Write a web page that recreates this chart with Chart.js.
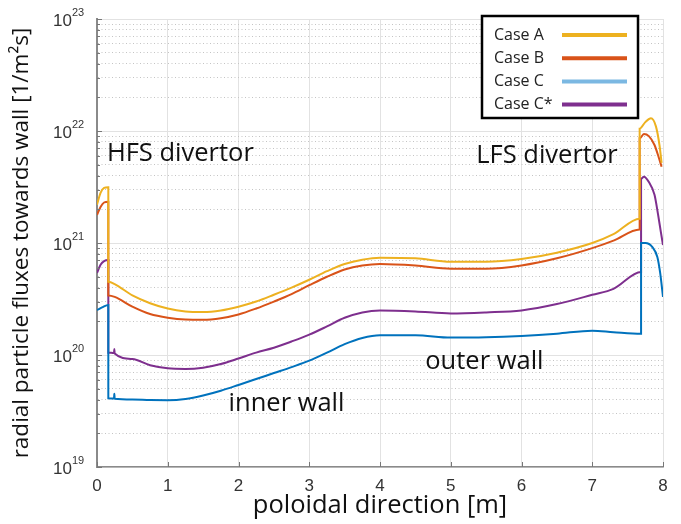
<!DOCTYPE html>
<html>
<head>
<meta charset="utf-8">
<script src="https://cdn.jsdelivr.net/npm/chart.js@4"></script>
<style>
  body { margin: 0; background: #fff; }
  canvas { display: block; }
</style>
</head>
<body>
<canvas id="fluxChart" width="681" height="524"></canvas>
<script>
// poloidal position [m] and radial flux [1/m^2 s]
var xA = [0, 0.05, 0.1, 0.16, 0.16, 0.25, 0.5, 0.75, 1.0, 1.25, 1.5, 1.75, 2.0, 2.25, 2.5, 2.75, 3.0, 3.25, 3.5, 3.75, 4.0, 4.5, 5.0, 5.5, 6.0, 6.5, 7.0, 7.3, 7.67, 7.67, 7.75, 7.83, 7.9, 7.95, 7.98];
var yA = [2.2e21, 2.8e21, 3.1e21, 3.15e21, 4.5e20, 4.3e20, 3.4e20, 2.9e20, 2.6e20, 2.45e20, 2.42e20, 2.5e20, 2.7e20, 3.0e20, 3.45e20, 4.0e20, 4.7e20, 5.6e20, 6.5e20, 7.1e20, 7.4e20, 7.3e20, 6.8e20, 6.8e20, 7.2e20, 8.2e20, 1.0e21, 1.2e21, 1.65e21, 1.05e22, 1.2e22, 1.3e22, 1.1e22, 7.5e21, 5.2e21];

var xB = [0, 0.05, 0.1, 0.16, 0.16, 0.25, 0.5, 0.75, 1.0, 1.25, 1.5, 1.75, 2.0, 2.25, 2.5, 2.75, 3.0, 3.25, 3.5, 3.75, 4.0, 4.5, 5.0, 5.5, 6.0, 6.5, 7.0, 7.3, 7.67, 7.67, 7.73, 7.8, 7.88, 7.94, 7.98];
var yB = [1.78e21, 2.1e21, 2.3e21, 2.34e21, 3.4e20, 3.3e20, 2.7e20, 2.32e20, 2.15e20, 2.07e20, 2.06e20, 2.13e20, 2.3e20, 2.6e20, 3.0e20, 3.5e20, 4.2e20, 5.0e20, 5.8e20, 6.3e20, 6.5e20, 6.3e20, 5.9e20, 5.9e20, 6.3e20, 7.3e20, 9.0e20, 1.05e21, 1.32e21, 8.6e21, 9.4e21, 9.0e21, 7.5e21, 5.8e21, 4.8e21];

var xC = [0, 0.08, 0.16, 0.16, 0.24, 0.245, 0.25, 0.5, 0.75, 1.0, 1.25, 1.5, 1.75, 2.0, 2.25, 2.5, 2.75, 3.0, 3.25, 3.5, 3.75, 4.0, 4.5, 5.0, 5.5, 6.0, 6.5, 7.0, 7.3, 7.69, 7.69, 7.75, 7.85, 7.92, 7.96, 8.0];
var yC = [2.52e20, 2.68e20, 2.8e20, 4.1e19, 4.08e19, 4.5e19, 4.06e19, 4.0e19, 3.96e19, 3.95e19, 4.05e19, 4.35e19, 4.8e19, 5.4e19, 6.1e19, 6.9e19, 7.8e19, 8.9e19, 1.05e20, 1.25e20, 1.42e20, 1.5e20, 1.5e20, 1.43e20, 1.44e20, 1.48e20, 1.55e20, 1.65e20, 1.6e20, 1.55e20, 1.0e21, 1.0e21, 9.2e20, 7.5e20, 5.4e20, 3.3e20];

var xCs = [0, 0.05, 0.1, 0.16, 0.16, 0.24, 0.245, 0.25, 0.5, 0.75, 1.0, 1.25, 1.5, 1.75, 2.0, 2.25, 2.5, 2.75, 3.0, 3.25, 3.5, 3.75, 4.0, 4.5, 5.0, 5.5, 6.0, 6.5, 7.0, 7.3, 7.69, 7.69, 7.73, 7.8, 7.88, 7.93, 7.97, 8.0];
var yCs = [5.4e20, 6.4e20, 6.9e20, 7.05e20, 1.05e20, 1.04e20, 1.13e20, 1.03e20, 9.2e19, 8.1e19, 7.6e19, 7.5e19, 7.7e19, 8.3e19, 9.3e19, 1.05e20, 1.16e20, 1.32e20, 1.52e20, 1.8e20, 2.15e20, 2.4e20, 2.5e20, 2.45e20, 2.35e20, 2.4e20, 2.5e20, 2.85e20, 3.45e20, 3.9e20, 5.5e20, 3.75e21, 3.9e21, 3.5e21, 2.7e21, 1.8e21, 1.25e21, 9.6e20];

var caseNames = ["Case A", "Case B", "Case C", "Case C*"];
var lineColors = ["#EDB120", "#D95319", "#0072BD", "#7E2F8E"];
var legendColors = ["#EDB120", "#D95319", "#7BB8E2", "#7E2F8E"];

var xTicks = [0, 1, 2, 3, 4, 5, 6, 7, 8];
var yExps = [19, 20, 21, 22, 23];

var notes = [
  { text: "HFS divertor", x: 0.14, y: 6.3e21 },
  { text: "LFS divertor", x: 5.36, y: 6.0e21 },
  { text: "inner wall", x: 1.86, y: 3.7e19 },
  { text: "outer wall", x: 4.64, y: 8.7e19 }
];

function pts(xs, ys) {
  var out = [];
  for (var i = 0; i < xs.length; i++) out.push({ x: xs[i], y: ys[i] });
  return out;
}

var series = [pts(xA, yA), pts(xB, yB), pts(xC, yC), pts(xCs, yCs)];
var datasets = [];
for (var i = 0; i < series.length; i++) {
  datasets.push({
    label: caseNames[i],
    data: series[i],
    borderColor: lineColors[i],
    borderWidth: 2,
    pointRadius: 0,
    fill: false,
    cubicInterpolationMode: "monotone"
  });
}

function isMajor(v) {
  var l = Math.log10(v);
  return Math.abs(l - Math.round(l)) < 1e-9;
}

// y tick labels with real superscripts, annotations, inward ticks and the boxed legend
var decorations = {
  id: "decorations",
  afterDraw: function (chart) {
    var ctx = chart.ctx;
    var xs = chart.scales.x, ys = chart.scales.y;
    var area = chart.chartArea;
    ctx.save();

    // inward tick marks
    ctx.strokeStyle = "#777";
    ctx.lineWidth = 1;
    ys.ticks.forEach(function (t) {
      var py = Math.round(ys.getPixelForValue(t.value)) + 0.5;
      ctx.beginPath();
      ctx.moveTo(area.left, py);
      ctx.lineTo(area.left + (isMajor(t.value) ? 5 : 3), py);
      ctx.stroke();
    });
    xTicks.forEach(function (v) {
      var px = Math.round(xs.getPixelForValue(v)) + 0.5;
      ctx.beginPath();
      ctx.moveTo(px, area.bottom);
      ctx.lineTo(px, area.bottom - 5);
      ctx.stroke();
    });

    // y tick labels 10^n
    ctx.fillStyle = "#333";
    ctx.textBaseline = "middle";
    yExps.forEach(function (e) {
      var py = ys.getPixelForValue(Math.pow(10, e));
      ctx.font = "17px 'Liberation Sans', Arial, sans-serif";
      ctx.textAlign = "right";
      ctx.fillText("10", 72, py + 2);
      ctx.font = "11px 'Liberation Sans', Arial, sans-serif";
      ctx.textAlign = "left";
      ctx.fillText(String(e), 72, py - 6);
    });

    // annotations
    ctx.fillStyle = "#111";
    ctx.font = "25.5px 'Open Sans', sans-serif";
    ctx.textAlign = "left";
    notes.forEach(function (n) {
      ctx.fillText(n.text, xs.getPixelForValue(n.x), ys.getPixelForValue(n.y));
    });

    // legend box
    var bx = 482, by = 16, bw = 156, bh = 102;
    ctx.fillStyle = "#fff";
    ctx.fillRect(bx, by, bw, bh);
    ctx.strokeStyle = "#000";
    ctx.lineWidth = 2.5;
    ctx.strokeRect(bx, by, bw, bh);
    ctx.font = "16px 'Open Sans', sans-serif";
    chart.data.datasets.forEach(function (ds, i) {
      var ly = by + 19 + i * 23.2;
      ctx.fillStyle = "#222";
      ctx.fillText(ds.label, bx + 12, ly);
      ctx.strokeStyle = legendColors[i];
      ctx.lineWidth = 4;
      ctx.beginPath();
      ctx.moveTo(bx + 80, ly);
      ctx.lineTo(bx + 145, ly);
      ctx.stroke();
    });
    ctx.restore();
  }
};

new Chart(document.getElementById("fluxChart"), {
  type: "line",
  data: { datasets: datasets },
  options: {
    responsive: false,
    animation: false,
    devicePixelRatio: 1,
    layout: { padding: { top: 19, right: 18, left: 0, bottom: 0 } },
    plugins: { legend: { display: false }, tooltip: { enabled: false } },
    scales: {
      x: {
        type: "linear",
        min: 0,
        max: 8,
        afterBuildTicks: function (scale) {
          scale.ticks = xTicks.map(function (v) { return { value: v }; });
        },
        afterFit: function (scale) { scale.height = 57; },
        ticks: {
          color: "#333",
          padding: 9,
          font: { family: "'Liberation Sans', Arial, sans-serif", size: 17 },
          maxRotation: 0,
          autoSkip: false
        },
        grid: { color: "#e2e2e2", lineWidth: 1, drawTicks: false },
        border: { color: "#8a8a8a", width: 1.5 },
        title: {
          display: true,
          text: "poloidal direction [m]",
          color: "#111",
          font: { family: "'Open Sans', sans-serif", size: 25.5 },
          padding: { top: 0, bottom: 3 }
        }
      },
      y: {
        type: "logarithmic",
        min: 1e19,
        max: 1e23,
        afterBuildTicks: function (scale) {
          var t = [];
          for (var e = 19; e < 23; e++) {
            for (var m = 1; m <= 9; m++) t.push({ value: m * Math.pow(10, e) });
          }
          t.push({ value: 1e23 });
          scale.ticks = t;
        },
        afterFit: function (scale) { scale.width = 97; },
        ticks: { display: false, autoSkip: false },
        grid: {
          drawTicks: false,
          lineWidth: 1,
          color: function (c) {
            return c.tick && !isMajor(c.tick.value) ? "#c4c4c4" : "#e2e2e2";
          }
        },
        border: {
          color: "#8a8a8a",
          width: 2,
          dash: function (c) {
            return c.tick && !isMajor(c.tick.value) ? [1, 2.5] : [];
          }
        },
        title: {
          display: true,
          text: "radial particle fluxes towards wall [1/m²s]",
          color: "#111",
          font: { family: "'Open Sans', sans-serif", size: 22.5 },
          padding: { top: 8, bottom: 0 }
        }
      }
    }
  },
  plugins: [decorations]
});
</script>
</body>
</html>
